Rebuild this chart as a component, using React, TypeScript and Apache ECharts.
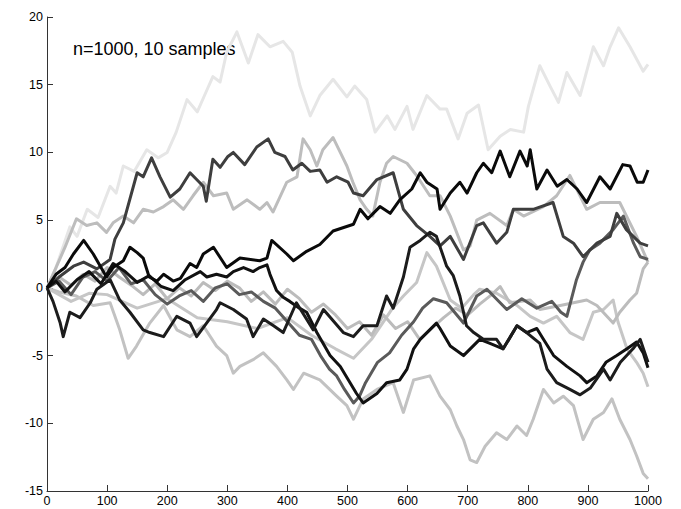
import React, { useEffect, useRef } from "react";
import * as echarts from "echarts";

const xTicks = { min: 0, max: 1000, interval: 100 };
const yTicks = { min: -15, max: 20, interval: 5 };
const annotation = "n=1000, 10 samples";

// [step, value] readings for each of the 10 sample paths
const pathA: [number, number][] = [[0,0],[15,1.5],[38,4.5],[50,3.8],[67,5.8],[85,5.2],[105,7.5],[115,7],[127,9],[145,8.6],[166,10.2],[185,9.6],[200,10],[215,11.5],[233,13.9],[250,13],[265,14.5],[276,15.6],[288,15.2],[299,17.4],[316,18.9],[335,16.6],[351,18.7],[371,17.8],[393,18.2],[408,17.4],[421,14.9],[438,12.7],[454,14.2],[476,15.4],[499,14.1],[512,14.9],[532,13.9],[546,11.5],[566,12.7],[579,11.7],[599,13.4],[609,11.7],[632,14.2],[654,13.2],[665,13.2],[684,11],[699,12.9],[718,13.5],[734,10.2],[754,11.2],[771,11.7],[793,11.5],[801,13.4],[820,16.4],[837,14.9],[851,13.7],[865,15.9],[887,14.2],[909,17.8],[926,16.4],[937,17.8],[951,19.2],[970,17.8],[992,16],[1000,16.5]];

const pathL14: [number, number][] = [[0,0],[20,-0.3],[49,-0.6],[77,-1.3],[105,-1.1],[121,-3.1],[135,-5.2],[149,-4.3],[171,-2.6],[194,-1.3],[216,-3.1],[238,-3.6],[260,-2.8],[282,-4.3],[299,-5.0],[310,-6.3],[321,-5.8],[343,-5.3],[360,-4.8],[382,-5.8],[399,-6.8],[410,-7.5],[427,-6.3],[454,-6.8],[482,-8.0],[499,-8.7],[510,-9.7],[526,-8.2],[549,-7.5],[576,-7.0],[593,-9.2],[610,-6.8],[637,-6.5],[654,-8.0],[671,-9.0],[682,-10.2],[693,-11.2],[704,-12.7],[715,-12.9],[729,-11.7],[748,-10.7],[765,-11.2],[782,-10.2],[798,-10.9],[809,-9.7],[826,-7.5],[843,-8.5],[859,-8.0],[876,-8.7],[892,-11.2],[909,-9.7],[926,-9.2],[940,-8.2],[953,-9.7],[970,-11.2],[981,-12.4],[992,-13.7],[1000,-14.1]];

const pathL7: [number, number][] = [[0,0],[40,-1],[70,-0.4],[100,-0.5],[150,-1.5],[200,-0.8],[250,-2.2],[300,-2.5],[350,-3.0],[400,-2.2],[440,-3.5],[480,-4.5],[510,-5.2],[540,-3.8],[560,-2.5],[575,-1.5],[593,-0.6],[615,0.4],[632,2.6],[648,1.6],[671,-0.9],[690,-1.5],[710,-0.5],[720,-0.1],[748,-0.4],[782,-1.3],[804,-2.1],[826,-2.6],[848,-2.1],[870,-3.3],[892,-3.8],[909,-1.8],[926,-1.6],[942,-0.9],[950,-2.5],[965,-4.5],[981,-5.5],[992,-6.3],[1000,-7.3]];

const pathL2: [number, number][] = [[0,0],[20,0.8],[40,0.2],[60,1.0],[80,0.5],[100,1.5],[120,0.8],[140,0.2],[160,-0.5],[180,0.3],[200,-0.8],[220,0.0],[240,-0.6],[260,0.4],[280,-0.2],[300,0.5],[320,0.0],[340,-1.0],[360,-0.3],[380,-1.2],[400,-0.1],[420,-0.8],[440,-1.8],[460,-1.2],[480,-2.0],[500,-3.0],[520,-2.5],[540,-3.5],[560,-2.0],[580,-3.0],[600,-2.5],[620,-3.8],[640,-3.0],[660,-2.2],[680,-1.5],[700,-2.0],[720,-1.2],[740,-0.5],[754,0.1],[770,-1.1],[804,-0.9],[820,-1.6],[854,-1.3],[876,-1.1],[898,-0.9],[915,-1.3],[942,-2.6],[953,-1.8],[970,-0.9],[981,-0.4],[992,1.4],[1000,1.9]];

const pathC: [number, number][] = [[0,0],[15,1.5],[30,3],[49,5.1],[66,4.6],[83,4.8],[99,4.1],[110,4.8],[127,5.3],[144,4.8],[160,5.8],[177,5.6],[194,6.0],[210,6.5],[227,5.8],[243,6.8],[260,7.8],[277,6.8],[299,7.0],[310,5.8],[333,6.5],[354,5.8],[366,6.3],[376,5.6],[399,7.8],[416,8.2],[426,11.0],[438,10.2],[449,9.0],[459,10.2],[476,11.1],[488,10],[499,9.0],[509,7.8],[521,6.5],[532,5.8],[542,5.3],[554,7.8],[565,9.2],[576,9.7],[599,9.2],[615,8.3],[637,6.8],[654,6.8],[671,5.3],[693,2.8],[704,3.1],[715,5.0],[737,5.5],[765,4.6],[776,5.8],[793,5.3],[826,6.0],[848,6.8],[870,8.3],[898,5.8],[920,6.3],[953,6.3],[981,3.8],[1000,1.9]];

const pathG2: [number, number][] = [[0,0],[20,0.5],[40,-0.5],[60,0.8],[80,1.2],[100,0.5],[120,1.5],[140,0.3],[160,0.6],[180,-0.5],[200,-1.2],[220,-0.6],[240,-0.2],[260,-1.0],[280,0.0],[300,0.3],[320,-0.5],[340,-0.3],[360,-1.0],[380,-1.5],[400,-2.5],[420,-3.5],[440,-3.8],[455,-5.0],[470,-6.0],[482,-6.5],[495,-7.5],[510,-8.5],[520,-8.0],[530,-7.0],[550,-5.5],[570,-4.8],[590,-3.5],[610,-2.5],[625,-1.5],[643,-0.8],[665,-1.1],[693,-2.6],[715,-0.6],[732,-0.1],[765,-1.6],[790,-0.8],[815,-1.5],[840,-1.0],[855,-1.8],[865,-2.1],[881,0.6],[892,1.9],[903,2.8],[920,3.3],[942,4.3],[959,5.3],[976,3.3],[987,2.3],[1000,2.1]];

const pathB: [number, number][] = [[0,0],[20,0.8],[44,1.6],[61,1.9],[83,1.4],[105,2.1],[113,3.6],[127,4.8],[150,8.5],[160,8.2],[174,9.6],[188,8.2],[205,6.7],[221,7.3],[238,8.5],[260,7.5],[265,6.4],[276,9.5],[288,8.9],[301,9.7],[310,10],[329,9.1],[349,10.4],[368,11],[379,10],[396,9.7],[409,8.7],[424,9.2],[438,8.6],[454,8.7],[466,7.8],[482,8.2],[501,7.8],[510,7.0],[526,6.8],[549,8.0],[576,8.5],[593,5.8],[615,4.6],[637,3.8],[654,3.1],[671,3.8],[693,2.1],[715,4.6],[726,4.8],[748,3.3],[765,4.1],[776,5.8],[809,5.8],[842,6.3],[859,3.8],[876,3.3],[892,2.3],[915,3.3],[937,3.8],[948,5.5],[964,4.3],[987,3.3],[1000,3.1]];

const pathK2: [number, number][] = [[0,0],[15,0.5],[30,-0.3],[50,0.6],[70,1.2],[90,0.3],[110,1.8],[130,1.2],[150,0.4],[170,0.9],[190,0.1],[210,-0.2],[230,0.6],[255,1.2],[266,0.8],[282,1.0],[299,0.8],[310,1.2],[327,1.5],[343,1.2],[354,1.5],[366,1.7],[371,1.0],[382,-0.2],[393,-0.7],[404,-1.0],[420,-1.5],[432,-1.8],[449,-3.3],[471,-5.0],[488,-5.8],[515,-7.8],[526,-8.5],[549,-7.8],[565,-7.0],[587,-6.8],[599,-6.0],[610,-4.5],[621,-3.8],[648,-2.6],[654,-3.0],[671,-4.3],[693,-5.0],[720,-3.8],[737,-4.1],[759,-4.5],[782,-2.8],[798,-3.3],[815,-3.0],[826,-3.8],[843,-5.0],[865,-5.8],[887,-6.5],[898,-7.0],[915,-6.5],[930,-5.5],[948,-5.0],[965,-4.5],[981,-4.0],[992,-4.8],[1000,-5.9]];

const pathK3: [number, number][] = [[0,0],[10,-1.0],[22,-2.6],[27,-3.6],[38,-1.8],[55,-2.2],[72,-1.1],[83,-0.1],[105,0.6],[121,-0.9],[138,-1.8],[160,-3.1],[171,-3.3],[194,-3.6],[216,-2.1],[238,-2.6],[249,-3.6],[282,-1.6],[288,-1.1],[310,-1.6],[332,-2.3],[343,-3.6],[360,-2.3],[377,-2.8],[393,-3.3],[415,-1.1],[443,-3.1],[460,-1.6],[493,-3.3],[510,-3.6],[526,-2.8],[549,-2.8],[565,-0.6],[576,-1.5],[593,0.8],[604,3.0],[621,3.5],[637,4.1],[648,3.8],[665,1.6],[676,0.9],[687,-0.6],[698,-2.8],[710,-3.3],[726,-3.8],[748,-3.8],[759,-4.5],[782,-2.8],[798,-3.3],[820,-4.1],[832,-6.0],[848,-7.0],[870,-7.5],[887,-7.9],[904,-7.4],[926,-6.0],[937,-6.8],[954,-5.5],[975,-4.5],[987,-3.8],[1000,-5.5]];

const pathK1: [number, number][] = [[0,0],[15,1.0],[30,1.5],[44,2.5],[61,3.5],[77,2.5],[99,0.8],[110,1.5],[127,2.0],[138,3.0],[150,2.6],[160,2.2],[170,0.8],[183,0.5],[194,1.0],[210,0.5],[222,0.7],[238,1.8],[249,1.5],[260,2.5],[277,3.0],[299,1.5],[321,2.2],[354,2.0],[366,2.2],[374,3.5],[399,2.5],[410,2.0],[432,2.7],[454,3.2],[476,4.2],[510,4.7],[521,5.8],[534,5.1],[554,6.0],[571,5.5],[587,6.5],[607,7.3],[621,8.5],[632,7.8],[649,7.3],[654,5.8],[671,7.0],[687,7.8],[699,7.0],[715,8.5],[726,9.2],[740,8.5],[754,10.1],[770,8.2],[787,10.1],[799,9.0],[804,10.2],[815,7.3],[832,8.7],[849,7.5],[865,8.0],[882,7.3],[898,6.3],[920,8.2],[937,7.3],[958,9.1],[970,9.0],[982,7.8],[992,7.8],[1000,8.7]];

const seriesList: { data: [number, number][]; color: string }[] = [
  { data: pathA, color: "#e6e6e6" },
  { data: pathL14, color: "#c2c2c2" },
  { data: pathL7, color: "#c6c6c6" },
  { data: pathL2, color: "#bcbcbc" },
  { data: pathC, color: "#bdbdbd" },
  { data: pathG2, color: "#5a5a5a" },
  { data: pathB, color: "#3e3e3e" },
  { data: pathK2, color: "#111111" },
  { data: pathK3, color: "#1c1c1c" },
  { data: pathK1, color: "#0a0a0a" },
];

const FONT = "'Liberation Sans', Arial, Helvetica, sans-serif";

export default function App() {
  const ref = useRef<HTMLDivElement>(null);
  useEffect(() => {
    if (!ref.current) return;
    const chart = echarts.init(ref.current, undefined, { renderer: "svg" });
    const axisCommon = {
      type: "value" as const,
      axisLine: { show: true, onZero: false, lineStyle: { color: "#333", width: 1 } },
      axisTick: { show: true, inside: true, length: 6, lineStyle: { color: "#333", width: 1 } },
      splitLine: { show: false },
    };
    chart.setOption({
      animation: false,
      backgroundColor: "#fff",
      grid: { left: 47, right: 33, top: 17, bottom: 18, containLabel: false },
      xAxis: {
        ...axisCommon,
        min: xTicks.min,
        max: xTicks.max,
        interval: xTicks.interval,
        axisLabel: {
          color: "#000", fontFamily: FONT, fontSize: 12.5, margin: 3,
          showMaxLabel: true, showMinLabel: true,
          formatter: (v: number) => String(v),
        },
      },
      yAxis: {
        ...axisCommon,
        min: yTicks.min,
        max: yTicks.max,
        interval: yTicks.interval,
        axisLabel: { color: "#000", fontFamily: FONT, fontSize: 12.5, margin: 4, formatter: (v: number) => String(v) },
      },
      series: seriesList.map((s) => ({
        type: "line",
        data: s.data,
        symbol: "none",
        showSymbol: false,
        silent: true,
        lineStyle: { color: s.color, width: 3, join: "round" },
      })),
      graphic: [
        {
          type: "text",
          x: 73,
          y: 49,
          style: { text: annotation, fontSize: 18, fontFamily: FONT, fill: "#000", verticalAlign: "middle", align: "left" },
        },
      ],
    });
    return () => chart.dispose();
  }, []);
  return (
    <div
      ref={ref}
      style={{ position: "fixed", left: 0, top: 0, width: 681, height: 509, background: "#fff" }}
    />
  );
}
